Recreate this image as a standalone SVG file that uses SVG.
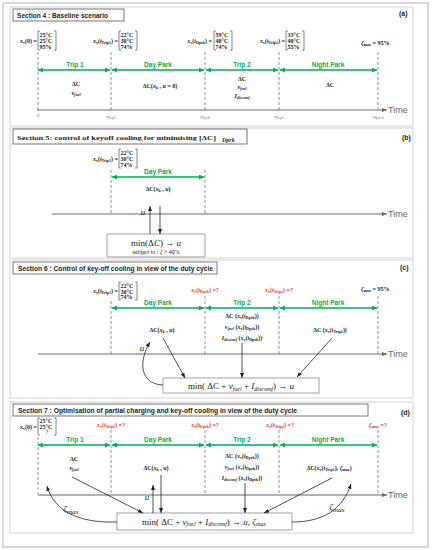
<svg xmlns="http://www.w3.org/2000/svg" width="434" height="550" viewBox="0 0 434 550">
<style>
.frame{fill:#fff;stroke:#b0b0b0;stroke-width:1}
.panel{fill:#fff;stroke:#d4d4d4;stroke-width:1}
.tbox{fill:#fff;stroke:#555;stroke-width:0.8}
.ttl{font-family:"Liberation Sans",Arial,sans-serif;font-weight:bold;font-size:6.5px;fill:#222}
.tag{font-family:"Liberation Sans",Arial,sans-serif;font-weight:bold;font-size:7px;fill:#222}
.m{font-family:"Liberation Serif","Times New Roman",serif;font-size:6px;fill:#222}
.mb{font-weight:bold}
.i{font-style:italic}
.s{font-size:4px}
.red{fill:#e0352b}
.g{font-family:"Liberation Sans",Arial,sans-serif;font-weight:bold;font-size:6.5px;fill:#00b050;text-anchor:middle}
.dash{stroke:#777;stroke-width:0.8;stroke-dasharray:3 2}
.ga{stroke:#00b050;stroke-width:1.3;marker-start:url(#ga);marker-end:url(#ga)}
.ax{stroke:#666;stroke-width:1;marker-end:url(#axh)}
.time{font-family:"Liberation Sans",Arial,sans-serif;font-size:9px;fill:#666}
.tk{font-family:"Liberation Serif",serif;font-style:italic;font-size:5px;fill:#777;text-anchor:middle}
.c{stroke:#222;stroke-width:0.8;fill:none;marker-end:url(#ah)}
.br{fill:none;stroke:#333;stroke-width:0.6}
.box{fill:#fff;stroke:#888;stroke-width:0.8}
.bt{font-family:"Liberation Serif","Times New Roman",serif;font-size:9px;fill:#222;text-anchor:middle}
.mid{text-anchor:middle}
.end{text-anchor:end}
</style>
<defs>
<marker id="ah" markerUnits="userSpaceOnUse" markerWidth="5" markerHeight="4" refX="5" refY="2" orient="auto"><path d="M0,0 L5,2 L0,4 z" fill="#222"/></marker>
<marker id="ga" markerUnits="userSpaceOnUse" markerWidth="5" markerHeight="5" refX="5" refY="2.5" orient="auto-start-reverse"><path d="M0,0 L5,2.5 L0,5 z" fill="#00b050"/></marker>
<marker id="axh" markerUnits="userSpaceOnUse" markerWidth="5" markerHeight="4" refX="5" refY="2" orient="auto"><path d="M0,0 L5,2 L0,4 z" fill="#666"/></marker>
</defs>
<rect class="frame" x="3" y="3" width="425" height="544"/>

<!-- Panel a -->
<g id="panel-a">
<rect class="panel" x="10" y="7" width="403" height="119"/>
<rect class="tbox" x="13" y="9" width="111" height="12"/>
<text class="ttl" x="17" y="17.5" textLength="91" lengthAdjust="spacingAndGlyphs">Section 4 : Baseline scenario</text>
<text class="tag" x="399" y="16">(a)</text>
</g>
<g id="a-states">
<text class="m mb end" x="37" y="43"><tspan class="i">x</tspan><tspan class="s" dy="1.2">v</tspan><tspan dy="-1.2">(0) =</tspan></text>
<path class="br" d="M40,31 H38 V50 H40 M54,31 H56 V50 H54"/>
<text class="m mb" x="39.5" y="37">25°C</text><text class="m mb" x="39.5" y="43">25°C</text><text class="m mb" x="39.5" y="49">95%</text>
<text class="m mb end" x="118" y="43"><tspan class="i">x</tspan><tspan class="s" dy="1.2">v</tspan><tspan dy="-1.2">(</tspan><tspan class="i">t</tspan><tspan class="s" dy="1.2">Trip1</tspan><tspan dy="-1.2">) =</tspan></text>
<path class="br" d="M121,31 H119 V50 H121 M135,31 H137 V50 H135"/>
<text class="m mb" x="120.5" y="37">22°C</text><text class="m mb" x="120.5" y="43">30°C</text><text class="m mb" x="120.5" y="49">74%</text>
<text class="m mb end" x="212" y="43"><tspan class="i">x</tspan><tspan class="s" dy="1.2">v</tspan><tspan dy="-1.2">(</tspan><tspan class="i">t</tspan><tspan class="s" dy="1.2">Dprk</tspan><tspan dy="-1.2">) =</tspan></text>
<path class="br" d="M216,31 H214 V50 H216 M230,31 H232 V50 H230"/>
<text class="m mb" x="215.5" y="37">59°C</text><text class="m mb" x="215.5" y="43">48°C</text><text class="m mb" x="215.5" y="49">74%</text>
<text class="m mb end" x="285" y="43"><tspan class="i">x</tspan><tspan class="s" dy="1.2">v</tspan><tspan dy="-1.2">(</tspan><tspan class="i">t</tspan><tspan class="s" dy="1.2">Trip2</tspan><tspan dy="-1.2">) =</tspan></text>
<path class="br" d="M288,31 H286 V50 H288 M302,31 H304 V50 H302"/>
<text class="m mb" x="287.5" y="37">33°C</text><text class="m mb" x="287.5" y="43">40°C</text><text class="m mb" x="287.5" y="49">55%</text>
<text class="m mb" x="361" y="45"><tspan class="i">ζ</tspan><tspan class="s" dy="1.2">max</tspan><tspan dy="-1.2"> = 95%</tspan></text>
</g>
<g id="a-timeline">
<line class="dash" x1="38" y1="52" x2="38" y2="110"/><line class="dash" x1="111" y1="52" x2="111" y2="110"/><line class="dash" x1="205" y1="52" x2="205" y2="110"/><line class="dash" x1="279" y1="52" x2="279" y2="110"/><line class="dash" x1="378" y1="52" x2="378" y2="110"/>
<line class="ga" x1="38" y1="70" x2="110" y2="70"/><line class="ga" x1="112" y1="70" x2="204" y2="70"/><line class="ga" x1="206" y1="70" x2="278" y2="70"/><line class="ga" x1="280" y1="70" x2="377" y2="70"/>
<text class="g" x="75" y="67">Trip 1</text><text class="g" x="158" y="67">Day Park</text><text class="g" x="242" y="67">Trip 2</text><text class="g" x="328" y="67">Night Park</text>
<line class="ax" x1="37" y1="110" x2="387" y2="110"/>
<text class="time" x="388" y="113">Time</text>
<text class="tk" x="38" y="117" font-style="normal">0</text>
<text class="tk" x="111" y="118">t<tspan class="s" dy="1">Trip1</tspan></text>
<text class="tk" x="205" y="118">t<tspan class="s" dy="1">Dprk</tspan></text>
<text class="tk" x="279" y="118">t<tspan class="s" dy="1">Trip2</tspan></text>
<text class="tk" x="378" y="118">t<tspan class="s" dy="1">Npark</tspan></text>
<text class="m mb mid" x="76" y="86">ΔC</text>
<text class="m mb mid" x="76" y="95"><tspan class="i">v</tspan><tspan class="s i" dy="1.2">fuel</tspan></text>
<text class="m mb mid" x="160" y="88">ΔC(<tspan class="i">x</tspan><tspan class="s" dy="1.2">k</tspan><tspan dy="-1.2"> , </tspan><tspan class="i">u</tspan> = 0)</text>
<text class="m mb mid" x="242" y="81">ΔC</text>
<text class="m mb mid" x="242" y="89"><tspan class="i">v</tspan><tspan class="s i" dy="1.2">fuel</tspan></text>
<text class="m mb mid" x="242" y="98"><tspan class="i">I</tspan><tspan class="s i" dy="1.2">discomf</tspan></text>
<text class="m mb mid" x="330" y="87">ΔC</text>
</g>

<!-- Panel b -->
<g id="panel-b">
<rect class="panel" x="10" y="128" width="403" height="130"/>
<rect class="tbox" x="13" y="129" width="234" height="15"/>
<text class="m mb" x="17" y="139.5" font-size="7" textLength="199" lengthAdjust="spacingAndGlyphs">Section 5: control of keyoff cooling for minimising [ΔC]</text>
<text class="m mb i" x="222" y="141.5" font-size="4.5">Dprk</text>
<text class="tag" x="402" y="140">(b)</text>
</g>
<g id="b-state">
<text class="m mb end" x="118" y="161"><tspan class="i">x</tspan><tspan class="s" dy="1.2">v</tspan><tspan dy="-1.2">(</tspan><tspan class="i">t</tspan><tspan class="s" dy="1.2">Trip1</tspan><tspan dy="-1.2">) =</tspan></text>
<path class="br" d="M121,149 H119 V168 H121 M135,149 H137 V168 H135"/>
<text class="m mb" x="120.5" y="155">22°C</text><text class="m mb" x="120.5" y="161">30°C</text><text class="m mb" x="120.5" y="167">74%</text>
</g>
<g id="b-timeline">
<line class="dash" x1="111" y1="170" x2="111" y2="214"/><line class="dash" x1="205" y1="170" x2="205" y2="214"/>
<line class="ga" x1="112" y1="177" x2="204" y2="177"/>
<text class="g" x="158" y="174">Day Park</text>
<text class="m mb mid" x="158" y="191">ΔC(<tspan class="i">x</tspan><tspan class="s" dy="1.2">k</tspan><tspan dy="-1.2"> , </tspan><tspan class="i">u</tspan>)</text>
<line class="ax" x1="52" y1="214" x2="387" y2="214"/>
<text class="time" x="388" y="217">Time</text>
</g>
<g id="b-opt">
<rect class="box" x="107" y="234" width="98" height="23"/>
<text class="bt" x="156" y="246">min(Δ<tspan class="i">C</tspan>) → <tspan class="i">u</tspan></text>
<text class="m mid" x="156" y="254" font-size="4.5">subject to : <tspan class="i">ζ</tspan> &gt; 40%</text>
</g>

<!-- Panel c -->
<g id="panel-c">
<rect class="panel" x="10" y="260" width="403" height="138"/>
<rect class="tbox" x="13" y="262" width="204" height="12"/>
<text class="ttl" x="18" y="270.5" textLength="195" lengthAdjust="spacingAndGlyphs">Section 6 : Control of key-off cooling in view of the duty cycle</text>
<text class="tag" x="400" y="270">(c)</text>
</g>
<g id="c-states">
<text class="m mb end" x="118" y="293"><tspan class="i">x</tspan><tspan class="s" dy="1.2">v</tspan><tspan dy="-1.2">(</tspan><tspan class="i">t</tspan><tspan class="s" dy="1.2">Trip1</tspan><tspan dy="-1.2">) =</tspan></text>
<path class="br" d="M121,282 H119 V300 H121 M135,282 H137 V300 H135"/>
<text class="m mb" x="120.5" y="287.5">22°C</text><text class="m mb" x="120.5" y="293.5">30°C</text><text class="m mb" x="120.5" y="299">74%</text>
<text class="m mb mid red" x="205" y="292"><tspan class="i">x</tspan><tspan class="s" dy="1.2">v</tspan><tspan dy="-1.2">(</tspan><tspan class="i">t</tspan><tspan class="s" dy="1.2">Dprk</tspan><tspan dy="-1.2">) =?</tspan></text>
<text class="m mb mid red" x="279" y="292"><tspan class="i">x</tspan><tspan class="s" dy="1.2">v</tspan><tspan dy="-1.2">(</tspan><tspan class="i">t</tspan><tspan class="s" dy="1.2">Trip2</tspan><tspan dy="-1.2">) =?</tspan></text>
<text class="m mb" x="361" y="291"><tspan class="i">ζ</tspan><tspan class="s" dy="1.2">max</tspan><tspan dy="-1.2"> = 95%</tspan></text>
</g>
<g id="c-timeline">
<line class="dash" x1="111" y1="301" x2="111" y2="354"/><line class="dash" x1="205" y1="296" x2="205" y2="354"/><line class="dash" x1="279" y1="296" x2="279" y2="354"/><line class="dash" x1="378" y1="296" x2="378" y2="354"/>
<line class="ga" x1="112" y1="308" x2="204" y2="308"/><line class="ga" x1="206" y1="308" x2="278" y2="308"/><line class="ga" x1="280" y1="308" x2="377" y2="308"/>
<text class="g" x="158" y="305">Day Park</text><text class="g" x="242" y="305">Trip 2</text><text class="g" x="328" y="305">Night Park</text>
<line class="ax" x1="38" y1="354" x2="387" y2="354"/>
<text class="time" x="388" y="357">Time</text>
<text class="m mb mid" x="162" y="332">ΔC(<tspan class="i">x</tspan><tspan class="s" dy="1.2">k</tspan><tspan dy="-1.2"> , </tspan><tspan class="i">u</tspan>)</text>
<text class="m mb mid" x="242" y="318">ΔC (<tspan class="i">x</tspan><tspan class="s" dy="1.2">v</tspan><tspan dy="-1.2">(</tspan><tspan class="i">t</tspan><tspan class="s" dy="1.2">Dprk</tspan><tspan dy="-1.2">))</tspan></text>
<text class="m mb mid" x="242" y="329"><tspan class="i">v</tspan><tspan class="s i" dy="1.2">fuel</tspan><tspan dy="-1.2"> (</tspan><tspan class="i">x</tspan><tspan class="s" dy="1.2">v</tspan><tspan dy="-1.2">(</tspan><tspan class="i">t</tspan><tspan class="s" dy="1.2">Dprk</tspan><tspan dy="-1.2">))</tspan></text>
<text class="m mb mid" x="242" y="340"><tspan class="i">I</tspan><tspan class="s i" dy="1.2">discomf</tspan><tspan dy="-1.2"> (</tspan><tspan class="i">x</tspan><tspan class="s" dy="1.2">v</tspan><tspan dy="-1.2">(</tspan><tspan class="i">t</tspan><tspan class="s" dy="1.2">Dprk</tspan><tspan dy="-1.2">))</tspan></text>
<text class="m mb mid" x="330" y="332">ΔC (<tspan class="i">x</tspan><tspan class="s" dy="1.2">v</tspan><tspan dy="-1.2">(</tspan><tspan class="i">t</tspan><tspan class="s" dy="1.2">Trip2</tspan><tspan dy="-1.2">))</tspan></text>
</g>
<g id="c-opt">
<rect class="box" x="163" y="378" width="156" height="15"/>
<text class="bt" x="241" y="389" font-size="8.5">min( ΔC + <tspan class="i">v</tspan><tspan class="i" font-size="6" dy="1.5">fuel</tspan><tspan dy="-1.5"> + </tspan><tspan class="i">I</tspan><tspan class="i" font-size="6" dy="1.5">discomf</tspan><tspan dy="-1.5">) → </tspan><tspan class="i">u</tspan></text>
<text class="bt i" x="142" y="351" font-size="8">u</text>
</g>

<!-- Panel d -->
<g id="panel-d">
<rect class="panel" x="10" y="402" width="403" height="131"/>
<rect class="tbox" x="13" y="404" width="355" height="12"/>
<text class="ttl" x="18" y="412.5" textLength="279" lengthAdjust="spacingAndGlyphs">Section 7 : Optimisation of partial charging and key-off cooling in view of the duty cycle</text>
<text class="tag" x="401" y="415">(d)</text>
</g>
<g id="d-states">
<text class="m mb end" x="37" y="429"><tspan class="i">x</tspan><tspan class="s" dy="1.2">v</tspan><tspan dy="-1.2">(0) =</tspan></text>
<path class="br" d="M40,418 H38 V435 H40 M54,418 H56 V435 H54"/>
<text class="m mb" x="39.5" y="423" font-size="5.5">25°C</text><text class="m mb" x="39.5" y="428.5" font-size="5.5">25°C</text><text class="m mb red mid" x="47" y="434" font-size="5.5">?</text>
<text class="m mb mid red" x="111" y="427"><tspan class="i">x</tspan><tspan class="s" dy="1.2">v</tspan><tspan dy="-1.2">(</tspan><tspan class="i">t</tspan><tspan class="s" dy="1.2">Trip1</tspan><tspan dy="-1.2">) =?</tspan></text>
<text class="m mb mid red" x="205" y="427"><tspan class="i">x</tspan><tspan class="s" dy="1.2">v</tspan><tspan dy="-1.2">(</tspan><tspan class="i">t</tspan><tspan class="s" dy="1.2">Dprk</tspan><tspan dy="-1.2">) =?</tspan></text>
<text class="m mb mid red" x="280" y="427"><tspan class="i">x</tspan><tspan class="s" dy="1.2">v</tspan><tspan dy="-1.2">(</tspan><tspan class="i">t</tspan><tspan class="s" dy="1.2">Trip2</tspan><tspan dy="-1.2">) =?</tspan></text>
<text class="m mb mid red" x="378" y="427"><tspan class="i">ζ</tspan><tspan class="s" dy="1.2">max</tspan><tspan dy="-1.2"> =?</tspan></text>
</g>
<g id="d-timeline">
<line class="dash" x1="38" y1="437" x2="38" y2="495"/><line class="dash" x1="111" y1="430" x2="111" y2="495"/><line class="dash" x1="205" y1="430" x2="205" y2="495"/><line class="dash" x1="279" y1="430" x2="279" y2="495"/><line class="dash" x1="378" y1="430" x2="378" y2="495"/>
<line class="ga" x1="38" y1="445" x2="110" y2="445"/><line class="ga" x1="112" y1="445" x2="204" y2="445"/><line class="ga" x1="206" y1="445" x2="278" y2="445"/><line class="ga" x1="280" y1="445" x2="377" y2="445"/>
<text class="g" x="75" y="442">Trip 1</text><text class="g" x="158" y="442">Day Park</text><text class="g" x="242" y="442">Trip 2</text><text class="g" x="328" y="442">Night Park</text>
<line class="ax" x1="38" y1="495" x2="387" y2="495"/>
<text class="time" x="388" y="498">Time</text>
<text class="m mb mid" x="74" y="461">ΔC</text>
<text class="m mb mid" x="74" y="470"><tspan class="i">v</tspan><tspan class="s i" dy="1.2">fuel</tspan></text>
<text class="m mb mid" x="156" y="470">ΔC(<tspan class="i">x</tspan><tspan class="s" dy="1.2">k</tspan><tspan dy="-1.2"> , </tspan><tspan class="i">u</tspan>)</text>
<text class="m mb mid" x="242" y="458">ΔC (<tspan class="i">x</tspan><tspan class="s" dy="1.2">v</tspan><tspan dy="-1.2">(</tspan><tspan class="i">t</tspan><tspan class="s" dy="1.2">Dprk</tspan><tspan dy="-1.2">))</tspan></text>
<text class="m mb mid" x="242" y="469"><tspan class="i">v</tspan><tspan class="s i" dy="1.2">fuel</tspan><tspan dy="-1.2"> (</tspan><tspan class="i">x</tspan><tspan class="s" dy="1.2">v</tspan><tspan dy="-1.2">(</tspan><tspan class="i">t</tspan><tspan class="s" dy="1.2">Dprk</tspan><tspan dy="-1.2">))</tspan></text>
<text class="m mb mid" x="242" y="480"><tspan class="i">I</tspan><tspan class="s i" dy="1.2">discomf</tspan><tspan dy="-1.2"> (</tspan><tspan class="i">x</tspan><tspan class="s" dy="1.2">v</tspan><tspan dy="-1.2">(</tspan><tspan class="i">t</tspan><tspan class="s" dy="1.2">Dprk</tspan><tspan dy="-1.2">))</tspan></text>
<text class="m mb mid" x="329" y="470">ΔC(<tspan class="i">x</tspan><tspan class="s" dy="1.2">v</tspan><tspan dy="-1.2">(</tspan><tspan class="i">t</tspan><tspan class="s" dy="1.2">Trip2</tspan><tspan dy="-1.2">), </tspan><tspan class="i">ζ</tspan><tspan class="s" dy="1.2">max</tspan><tspan dy="-1.2">)</tspan></text>
</g>
<g id="d-opt">
<rect class="box" x="117" y="513" width="175" height="17"/>
<text class="bt" x="204" y="524.5" font-size="8.5">min( ΔC + <tspan class="i">v</tspan><tspan class="i" font-size="6" dy="1.5">fuel</tspan><tspan dy="-1.5"> + </tspan><tspan class="i">I</tspan><tspan class="i" font-size="6" dy="1.5">discomf</tspan><tspan dy="-1.5">) → </tspan><tspan class="i">u</tspan>, <tspan class="i">ζ</tspan><tspan class="i" font-size="6" dy="1.5">max</tspan></text>
<text class="bt i" x="147" y="500" font-size="8">u</text>
<text class="bt i" x="71" y="512" font-size="10">ζ<tspan font-size="7" dy="1.5">max</tspan></text>
<text class="bt i" x="337" y="510" font-size="10">ζ<tspan font-size="7" dy="1.5">max</tspan></text>
</g>

<g id="connectors">
<line class="c" x1="150" y1="234" x2="150" y2="206"/>
<line class="c" x1="160" y1="206" x2="160" y2="234"/>
<text class="bt i" x="143" y="215" font-size="8">u</text>
<line class="c" x1="163" y1="338" x2="185" y2="378"/>
<line class="c" x1="242" y1="343" x2="242" y2="378"/>
<line class="c" x1="332" y1="338" x2="297" y2="377"/>
<path class="c" d="M163,385 C140,384 138,362 150,342"/>
<line class="c" x1="72" y1="477" x2="143" y2="513"/>
<line class="c" x1="153" y1="513" x2="153" y2="485"/>
<line class="c" x1="161" y1="475" x2="161" y2="513"/>
<line class="c" x1="245" y1="483" x2="245" y2="513"/>
<line class="c" x1="332" y1="478" x2="264" y2="513"/>
<path class="c" d="M117,522 C85,523 55,515 47,486"/>
<path class="c" d="M292,522 C325,522 343,508 351,484"/>
</g>
</svg>
